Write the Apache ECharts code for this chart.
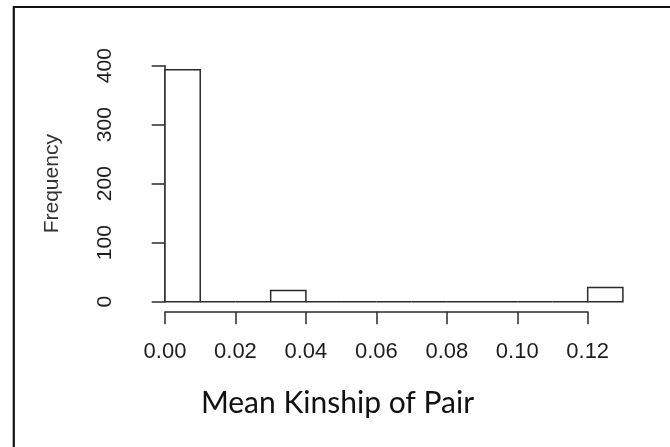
<!DOCTYPE html>
<html>
<head>
<meta charset="utf-8">
<script src="https://cdn.jsdelivr.net/npm/echarts@6/dist/echarts.min.js"></script>
<style>
html,body{margin:0;padding:0;background:#fff;}
#chart{width:670px;height:447px;}
</style>
</head>
<body>
<div id="chart"></div>
<script>
// Histogram bins (Mean Kinship of Pair)
var binStarts = [0.00, 0.01, 0.02, 0.03, 0.04, 0.05, 0.06, 0.07, 0.08, 0.09, 0.10, 0.11, 0.12];
var binEnds   = [0.01, 0.02, 0.03, 0.04, 0.05, 0.06, 0.07, 0.08, 0.09, 0.10, 0.11, 0.12, 0.13];
var counts    = [393, 0, 0, 19, 0, 0, 0, 0, 0, 0, 0, 0, 24];
var xTickLabels = ['0.00', '0.02', '0.04', '0.06', '0.08', '0.10', '0.12'];
var yTickLabels = ['0', '100', '200', '300', '400'];
var xTitle = 'Mean Kinship of Pair';
var yTitle = 'Frequency';

var lineColor = '#2b2b2b';
var data = binStarts.map(function (s, i) { return [s, binEnds[i], counts[i]]; });

var chart = echarts.init(document.getElementById('chart'), null, {renderer: 'canvas'});
chart.setOption({
  animation: false,
  backgroundColor: '#fff',
  grid: [
    {left: 165, top: 65.7, width: 457.9, height: 236},
    {left: 165, top: 65.7, width: 422.7, height: 236}
  ],
  xAxis: [
    {type: 'value', gridIndex: 0, min: 0, max: 0.13, show: false},
    {type: 'value', gridIndex: 1, min: 0, max: 0.12, interval: 0.02, position: 'bottom', offset: 10,
      axisLine: {show: true, onZero: false, lineStyle: {color: lineColor, width: 1.5}},
      axisTick: {show: true, inside: false, length: 12.5, lineStyle: {color: lineColor, width: 1.5}},
      axisLabel: {show: true, margin: 29, color: '#1e1e1e', fontSize: 22, fontFamily: 'Liberation Sans, Arial, sans-serif',
        formatter: function (v) { return xTickLabels[Math.round(v / 0.02)]; }},
      splitLine: {show: false}
    }
  ],
  yAxis: [
    {type: 'value', gridIndex: 0, min: 0, max: 400, interval: 100, position: 'left', offset: 19,
      name: yTitle, nameLocation: 'middle', nameGap: 83, nameRotate: 90,
      nameTextStyle: {color: '#333', fontSize: 21, fontFamily: 'Liberation Sans, Arial, sans-serif'},
      axisLine: {show: true, lineStyle: {color: lineColor, width: 1.5}},
      axisTick: {show: true, inside: false, length: 13.3, lineStyle: {color: lineColor, width: 1.5}},
      axisLabel: {show: true, rotate: 90, margin: 30, color: '#1e1e1e', fontSize: 21, fontFamily: 'Liberation Sans, Arial, sans-serif',
        formatter: function (v) { return yTickLabels[Math.round(v / 100)]; }},
      splitLine: {show: false}
    },
    {type: 'value', gridIndex: 1, min: 0, max: 400, show: false}
  ],
  series: [{
    type: 'custom',
    xAxisIndex: 0,
    yAxisIndex: 0,
    data: data,
    encode: {x: [0, 1], y: 2},
    renderItem: function (params, api) {
      var p0 = api.coord([api.value(0), api.value(2)]);
      var p1 = api.coord([api.value(1), 0]);
      return {
        type: 'rect',
        shape: {x: p0[0], y: p0[1], width: p1[0] - p0[0], height: p1[1] - p0[1]},
        style: {fill: '#fff', stroke: lineColor, lineWidth: 1.5}
      };
    }
  }],
  graphic: [
    {type: 'rect', silent: true, shape: {x: 13.8, y: 7, width: 700, height: 500},
      style: {fill: 'none', stroke: '#111', lineWidth: 2.2}},
    {type: 'text', silent: true, x: 337.5, y: 403,
      style: {text: xTitle, textAlign: 'center', textVerticalAlign: 'middle', fill: '#111',
        font: '30px Lato, "Open Sans", sans-serif'}}
  ]
});
</script>
</body>
</html>
